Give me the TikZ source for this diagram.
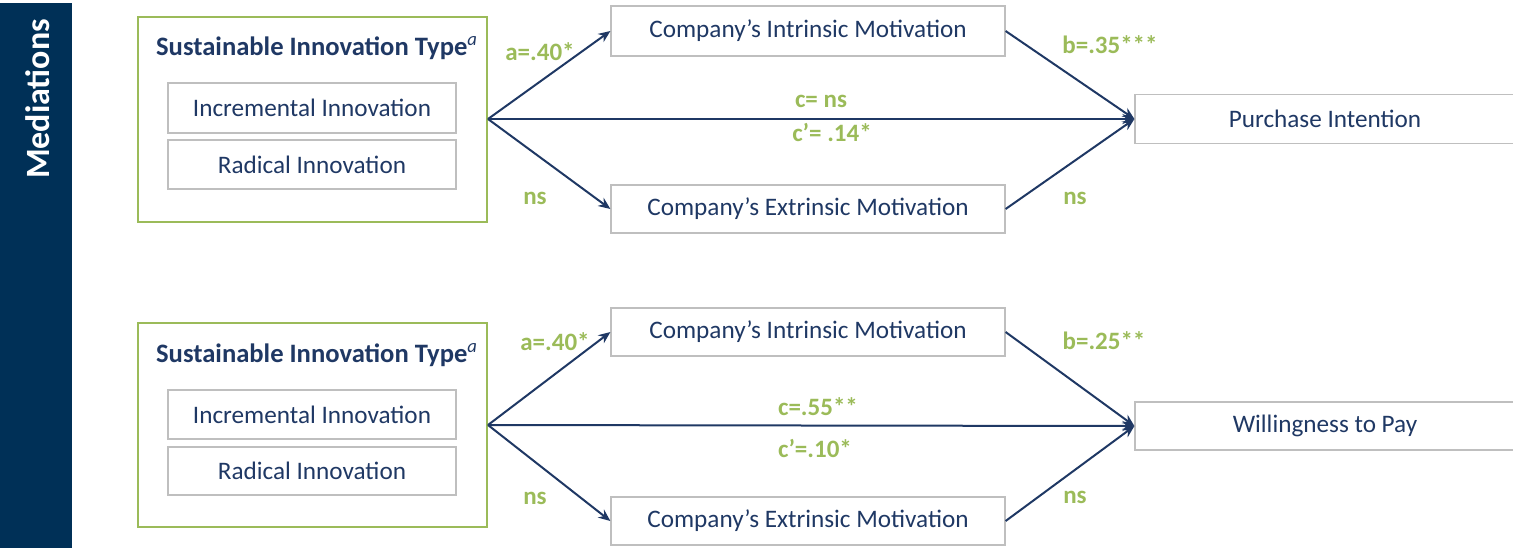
\documentclass[tikz,border=0pt]{standalone}
\usepackage{fontspec}
\setmainfont{Carlito}
\usetikzlibrary{positioning, arrows.meta}
\definecolor{navy}{HTML}{1F3864}
\definecolor{barblue}{HTML}{003057}
\definecolor{olive}{HTML}{9BBB59}
\definecolor{boxgrey}{HTML}{BFBFBF}

\begin{document}
\begin{tikzpicture}[x=0.5pt, y=-0.5pt,
    box/.style={draw=boxgrey, line width=0.6pt, text=navy, inner sep=0pt,
        font=\fontsize{12.6}{15}\selectfont},
    frame/.style={draw=olive, line width=1pt, inner sep=0pt, minimum width=174.5pt},
    titletext/.style={text=navy, font=\bfseries\fontsize{13.3}{16}\selectfont},
    coef/.style={text=olive, font=\bfseries\fontsize{12.5}{15}\selectfont},
    link/.style={draw=navy, line width=1pt, -{Stealth[length=6pt, width=5pt]}}]
    \useasboundingbox (0,0) rectangle (1513,548);

    % side bar
    \fill[barblue] (0,3) rectangle (72,548);
    \node[rotate=90, text=white, font=\bfseries\fontsize{17}{20}\selectfont] (side) at (38,99) {Mediations};

    % first mediation
    \node[frame, minimum height=102.5pt] (iv1) at (312.5,119) {};
    \node[titletext] (title1) at (317,48) {Sustainable Innovation Type\textsuperscript{\mdseries\itshape a}};
    \node[box, minimum width=144pt, minimum height=25pt] (incr1) at (312,108) {Incremental Innovation};
    \node[box, minimum width=144pt, minimum height=24.5pt] (rad1) at (312,164.5) {Radical Innovation};
    \node[box, minimum width=197pt, minimum height=25pt] (intr1) at (808,31) {Company’s Intrinsic Motivation};
    \node[box, minimum width=197pt, minimum height=24pt] (extr1) at (808,209) {Company’s Extrinsic Motivation};
    \node[box, minimum width=190pt, minimum height=24.5pt] (pi) at (1325,119) {Purchase Intention};

    \draw[link] (iv1.east) -- (intr1.west);
    \draw[link] (iv1.east) -- (extr1.west);
    \draw[link] (iv1.east) -- (pi.west);
    \draw[link] (intr1.east) -- (pi.west);
    \draw[link] (extr1.east) -- (pi.west);

    \node[coef] (a1) at (540,52) {a=.40*};
    \node[coef] (nsa1) at (535,198) {ns};
    \node[coef] (b1) at (1110,45) {b=.35***};
    \node[coef] (nsb1) at (1075,198) {ns};
    \node[coef] (c1) at (821,101) {c= ns};
    \node[coef] (cp1) at (832,132) {c’= .14*};

    % second mediation
    \node[frame, minimum height=102pt] (iv2) at (312.5,425) {};
    \node[titletext] (title2) at (317,355) {Sustainable Innovation Type\textsuperscript{\mdseries\itshape a}};
    \node[box, minimum width=144pt, minimum height=24.5pt] (incr2) at (312,414.5) {Incremental Innovation};
    \node[box, minimum width=144pt, minimum height=24pt] (rad2) at (312,471) {Radical Innovation};
    \node[box, minimum width=197pt, minimum height=24pt] (intr2) at (808,332) {Company’s Intrinsic Motivation};
    \node[box, minimum width=197pt, minimum height=24pt] (extr2) at (808,521) {Company’s Extrinsic Motivation};
    \node[box, minimum width=190pt, minimum height=24pt] (wtp) at (1325,426) {Willingness to Pay};

    \draw[link] (iv2.east) -- (intr2.west);
    \draw[link] (iv2.east) -- (extr2.west);
    \draw[link] (iv2.east) -- (wtp.west);
    \draw[link] (intr2.east) -- (wtp.west);
    \draw[link] (extr2.east) -- (wtp.west);

    \node[coef] (a2) at (555,342) {a=.40*};
    \node[coef] (nsa2) at (535,498) {ns};
    \node[coef] (b2) at (1104,341) {b=.25**};
    \node[coef] (nsb2) at (1075,497) {ns};
    \node[coef] (c2) at (818,407) {c=.55**};
    \node[coef] (cp2) at (815,448) {c’=.10*};
\end{tikzpicture}
\end{document}
